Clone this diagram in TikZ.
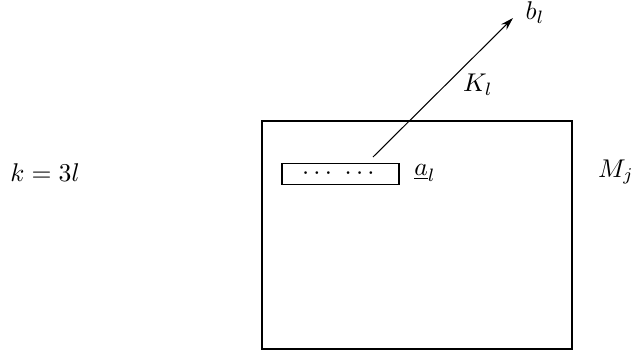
\documentclass[tikz,border=0pt]{standalone}
\usepackage{amsmath}
\usepackage{tikz}
\usetikzlibrary{arrows.meta}

\begin{document}
\begin{tikzpicture}[x=0.39pt,y=-0.39pt]
  \useasboundingbox (0,0) rectangle (631,351);
  \draw (262,121) rectangle (572,349);
  \node[draw,minimum width=117*0.39pt,minimum height=21*0.39pt,inner sep=0pt] (box) at (340.5,174) {$\cdots\ \cdots$};
  \node (al) at (425,173) {$\underline{a}_l$};
  \coordinate (start) at (373,157);
  \coordinate (tip) at (513,18);
  \node (bl) at (535,13) {$b_l$};
  \draw[-{Stealth[length=5pt,width=3pt]}] (start) -- (tip);
  \node (Kl) at (478,85) {$K_l$};
  \node (k) at (45,173) {$k=3l$};
  \node (Mj) at (616,172) {$M_j$};
\end{tikzpicture}
\end{document}
